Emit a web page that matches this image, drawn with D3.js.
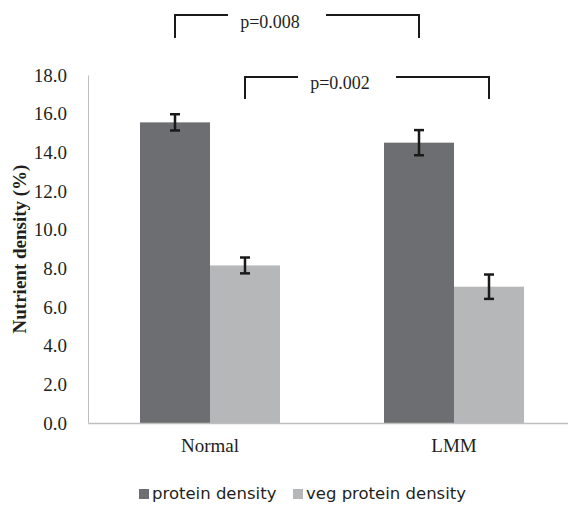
<!DOCTYPE html>
<html>
<head>
<meta charset="utf-8">
<script src="https://cdn.jsdelivr.net/npm/d3@7"></script>
<style>
  body { margin: 0; background: #fff; }
  svg { display: block; }
</style>
</head>
<body>
<svg id="chart" width="568" height="505"></svg>
<script>
// data
var groups = ['Normal', 'LMM'];
var seriesNames = ['protein density', 'veg protein density'];
var proteinVals = [15.55, 14.5];
var proteinErr = [0.42, 0.65];
var vegVals = [8.15, 7.05];
var vegErr = [0.41, 0.63];
var yTicks = [0, 2, 4, 6, 8, 10, 12, 14, 16, 18];
var pLabels = ['p=0.008', 'p=0.002'];

var colors = ['#6d6e71', '#b6b7b9'];
var ink = '#231f20';

var svg = d3.select('#chart');

var x = d3.scaleBand().domain(groups).range([88, 576]).paddingInner(0).paddingOuter(0);
var xs = d3.scaleBand().domain(seriesNames).range([0, x.bandwidth()]).paddingInner(0).paddingOuter(0.743);
var y = d3.scaleLinear().domain([0, 18]).range([423, 75]);

// y axis
var yAxis = d3.axisLeft(y).tickValues(yTicks).tickSize(0).tickPadding(21).tickFormat(d3.format('.1f'));
var gy = svg.append('g').attr('transform', 'translate(88,0)').call(yAxis);
gy.select('.domain').attr('stroke', '#bfbfbf');
gy.selectAll('text').attr('font-family', 'Liberation Serif').attr('font-size', 19).attr('fill', ink);

svg.append('text')
  .attr('transform', 'translate(26,249) rotate(-90)')
  .attr('text-anchor', 'middle')
  .attr('font-family', 'Liberation Serif')
  .attr('font-weight', 'bold')
  .attr('font-size', 19)
  .attr('fill', ink)
  .text('Nutrient density (%)');

// bars
var flat = [];
groups.forEach(function(g, i) {
  flat.push({g: g, s: seriesNames[0], v: proteinVals[i], e: proteinErr[i], c: colors[0]});
  flat.push({g: g, s: seriesNames[1], v: vegVals[i], e: vegErr[i], c: colors[1]});
});

svg.selectAll('rect.bar').data(flat).enter().append('rect')
  .attr('class', 'bar')
  .attr('x', function(d) { return x(d.g) + xs(d.s); })
  .attr('width', xs.bandwidth())
  .attr('y', function(d) { return y(d.v); })
  .attr('height', function(d) { return y(0) - y(d.v); })
  .attr('fill', function(d) { return d.c; });

// x axis
var gx = svg.append('g').attr('transform', 'translate(0,423)')
  .call(d3.axisBottom(x).tickSize(0).tickPadding(16));
gx.select('.domain').attr('stroke', '#bfbfbf').attr('stroke-width', 1.5);
gx.selectAll('text').attr('font-family', 'Liberation Serif').attr('font-size', 19).attr('fill', ink);

// error bars
function cx(d) { return x(d.g) + xs(d.s) + xs.bandwidth() / 2; }
var eb = svg.selectAll('g.err').data(flat).enter().append('g').attr('class', 'err')
  .attr('stroke', '#1a1a1a').attr('stroke-width', 2.5);
eb.append('line')
  .attr('x1', cx).attr('x2', cx)
  .attr('y1', function(d) { return y(d.v + d.e); })
  .attr('y2', function(d) { return y(d.v - d.e); });
eb.append('line')
  .attr('x1', function(d) { return cx(d) - 5; }).attr('x2', function(d) { return cx(d) + 5; })
  .attr('y1', function(d) { return y(d.v + d.e); }).attr('y2', function(d) { return y(d.v + d.e); });
eb.append('line')
  .attr('x1', function(d) { return cx(d) - 5; }).attr('x2', function(d) { return cx(d) + 5; })
  .attr('y1', function(d) { return y(d.v - d.e); }).attr('y2', function(d) { return y(d.v - d.e); });

// significance brackets between the same series in both groups
var brackets = [
  {s: seriesNames[0], top: 15, bottom: 38, label: pLabels[0], dy: 13},
  {s: seriesNames[1], top: 77, bottom: 99, label: pLabels[1], dy: 12}
];
brackets.forEach(function(b) {
  var x1 = x(groups[0]) + xs(b.s) + xs.bandwidth() / 2;
  var x2 = x(groups[1]) + xs(b.s) + xs.bandwidth() / 2;
  var mid = (x1 + x2) / 2 - 27;
  var g = svg.append('g');
  g.append('text')
    .attr('x', mid).attr('y', b.top + b.dy)
    .attr('text-anchor', 'middle')
    .attr('font-family', 'Liberation Serif')
    .attr('font-size', 18)
    .attr('fill', ink)
    .text(b.label);
  g.append('path')
    .attr('d', 'M' + x1 + ',' + b.bottom + 'V' + b.top + 'H' + (mid - 42))
    .attr('fill', 'none').attr('stroke', '#1a1a1a').attr('stroke-width', 2);
  g.append('path')
    .attr('d', 'M' + (mid + 56) + ',' + b.top + 'H' + x2 + 'V' + b.bottom)
    .attr('fill', 'none').attr('stroke', '#1a1a1a').attr('stroke-width', 2);
});

// legend
var legX = [139, 293];
var leg = svg.selectAll('g.leg').data(seriesNames).enter().append('g')
  .attr('class', 'leg')
  .attr('transform', function(d, i) { return 'translate(' + legX[i] + ',489)'; });
leg.append('rect').attr('width', 10).attr('height', 10).attr('fill', function(d, i) { return colors[i]; });
leg.append('text').attr('x', 13).attr('y', 10)
  .attr('font-family', 'DejaVu Sans')
  .attr('font-size', 16.5)
  .attr('fill', ink)
  .text(function(d) { return d; });
</script>
</body>
</html>
